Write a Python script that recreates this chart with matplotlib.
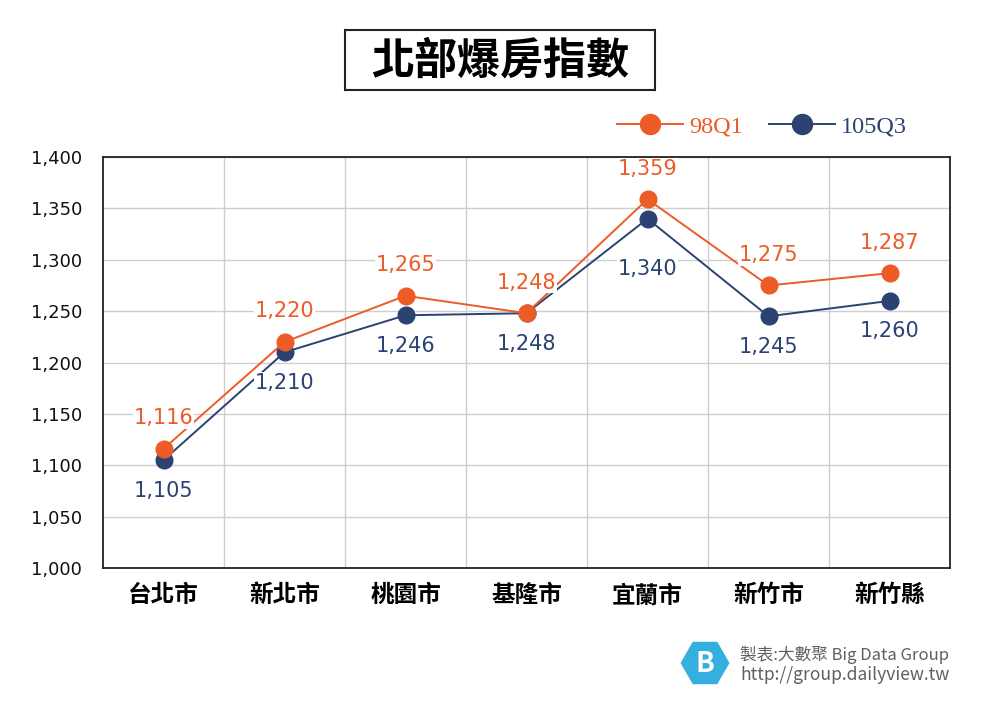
import matplotlib.pyplot as plt
from matplotlib.patches import RegularPolygon, Rectangle

plt.rcParams['font.family'] = ['Noto Sans CJK TC', 'DejaVu Sans']

# データ
cities = ['台北市', '新北市', '桃園市', '基隆市', '宜蘭市', '新竹市', '新竹縣']
q98 = [1116, 1220, 1265, 1248, 1359, 1275, 1287]
q105 = [1105, 1210, 1246, 1248, 1340, 1245, 1260]
yticks = [1000, 1050, 1100, 1150, 1200, 1250, 1300, 1350, 1400]

c_or = '#ED5B26'
c_bl = '#2B4272'

fig = plt.figure(figsize=(10, 7.06), dpi=100)
ax = fig.add_axes([0.103, 0.1955, 0.847, 0.582])

x = list(range(len(cities)))
ax.plot(x, q98, color=c_or, lw=1.4, marker='o', ms=12, label='98Q1', zorder=3)
ax.plot(x, q105, color=c_bl, lw=1.4, marker='o', ms=12, label='105Q3', zorder=2)

# データラベル（宜蘭市の105Q3だけ少し下げる）
for i in x:
    ax.annotate(f'{q98[i]:,}', (i, q98[i]), xytext=(0, 22), textcoords='offset points',
                ha='center', va='center', color=c_or, fontsize=15, family='DejaVu Sans',
                bbox=dict(fc='white', ec='none', pad=0.5), zorder=5)
    dy = -36 if i == 4 else -22
    ax.annotate(f'{q105[i]:,}', (i, q105[i]), xytext=(0, dy), textcoords='offset points',
                ha='center', va='center', color=c_bl, fontsize=15, family='DejaVu Sans',
                bbox=dict(fc='white', ec='none', pad=0.5), zorder=5)

ax.set_xlim(-0.5, 6.5)
ax.set_ylim(1000, 1400)
ax.set_yticks(yticks)
ax.set_yticklabels([f'{v:,}' for v in yticks], fontsize=13, family='DejaVu Sans', color='#111111')
ax.set_xticks(x)
ax.set_xticklabels(cities, fontsize=17, fontweight='bold')
ax.set_xticks([i + 0.5 for i in x[:-1]], minor=True)
ax.tick_params(length=0, which='both')
ax.tick_params(axis='x', pad=11)
ax.tick_params(axis='y', pad=15)
ax.grid(axis='y', color='#cfcfcf', lw=1)
ax.grid(axis='x', which='minor', color='#cfcfcf', lw=1)
for s in ax.spines.values():
    s.set_color('#222222')
    s.set_linewidth(1.3)

# 凡例
leg = ax.legend(loc='lower right', bbox_to_anchor=(0.975, 0.995), ncol=2, frameon=False,
                prop={'family': 'Liberation Serif', 'size': 17.5}, handlelength=2.7,
                columnspacing=1.1, handletextpad=0.25, markerscale=1.2)
for t, c in zip(leg.get_texts(), [c_or, c_bl]):
    t.set_color(c)

# タイトル
fig.patches.append(Rectangle((0.345, 0.8725), 0.31, 0.085, transform=fig.transFigure,
                             fc='white', ec='#222222', lw=1.5))
fig.text(0.5, 0.915, '北部爆房指數', ha='center', va='center', fontsize=31, fontweight='bold')

# フッター
hexagon = RegularPolygon((7.05, 0.43), numVertices=6, radius=0.245, orientation=0.5236,
                         transform=fig.dpi_scale_trans, fc='#35AEE0', ec='none')
fig.patches.append(hexagon)
fig.text(0.705, 0.06, 'B', ha='center', va='center', fontsize=20, color='white', fontweight='bold')
fig.text(0.740, 0.0722, '製表:大數聚 Big Data Group', ha='left', va='center', fontsize=12, color='#606060')
fig.text(0.740, 0.0439, 'http://group.dailyview.tw', ha='left', va='center', fontsize=12.6, color='#606060')

fig.savefig('out.png', dpi=100)
